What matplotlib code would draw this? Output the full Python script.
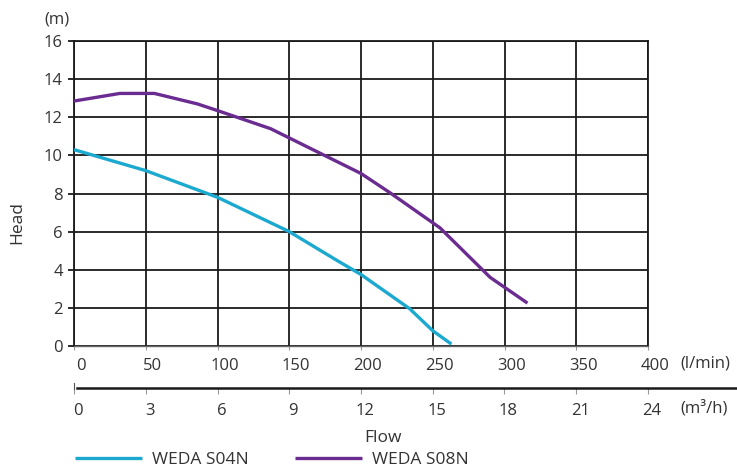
import matplotlib
matplotlib.use("Agg")
import matplotlib.pyplot as plt
from matplotlib.lines import Line2D
import matplotlib.transforms as mtransforms

plt.rcParams['font.family'] = ['Open Sans', 'DejaVu Sans']

# Data
s04_flow = [0, 25, 50, 100, 150, 183, 200, 234, 250, 263]
s04_head = [10.3, 9.75, 9.2, 7.8, 6.0, 4.5, 3.75, 1.95, 0.8, 0.1]
s08_flow = [0, 32, 56, 86, 100, 137, 200, 220, 255, 290, 316]
s08_head = [12.85, 13.25, 13.25, 12.7, 12.35, 11.4, 9.05, 8.05, 6.2, 3.6, 2.25]
lmin_ticks = [0, 50, 100, 150, 200, 250, 300, 350, 400]
m3h_ticks = [0, 3, 6, 9, 12, 15, 18, 21, 24]
head_ticks = [0, 2, 4, 6, 8, 10, 12, 14, 16]
series_names = ["WEDA S04N", "WEDA S08N"]

W, H = 737, 472
fig = plt.figure(figsize=(W / 100, H / 100), dpi=100)
txt = '#333333'
fs = 12
fs_big = 12.5

L, R, T, B = 74, 648, 41, 346
ax = fig.add_axes([L / W, 1 - B / H, (R - L) / W, (B - T) / H])
ax.set_xlim(0, 400)
ax.set_ylim(0, 16)
ax.set_xticks(lmin_ticks)
ax.set_yticks(head_ticks)
ax.grid(True, color='#1a1a1a', linewidth=1.3)
ax.set_axisbelow(True)
for s in ['top', 'right', 'left']:
    ax.spines[s].set_color('#1a1a1a')
    ax.spines[s].set_linewidth(1.3)
ax.spines['bottom'].set_color('#666666')
ax.spines['bottom'].set_linewidth(1.0)
ax.tick_params(axis='y', direction='out', length=4, width=1.3, color='#1a1a1a',
               pad=4, labelsize=fs, labelcolor=txt)
ax.tick_params(axis='x', direction='out', length=3, width=0.8, color='#999999',
               pad=6, labelsize=fs, labelcolor=txt)
off = mtransforms.ScaledTranslation(7 / 100, 0, fig.dpi_scale_trans)
for lab in ax.get_xticklabels():
    lab.set_transform(lab.get_transform() + off)

ax.plot(s04_flow, s04_head, color='#1BA9D0', lw=2.4, label=series_names[0],
        solid_capstyle='butt', zorder=3)
ax.plot(s08_flow, s08_head, color='#6B2C91', lw=2.4, label=series_names[1],
        solid_capstyle='butt', zorder=3)

# Secondary flow axis (m3/h)
y2 = 388
ax2 = fig.add_axes([L / W, 1 - y2 / H, (R - L) / W, 0.0001])
ax2.set_xlim(0, 24)
ax2.set_xticks(m3h_ticks)
ax2.set_yticks([])
for s in ax2.spines.values():
    s.set_visible(False)
ax2.patch.set_visible(False)
ax2.tick_params(axis='x', direction='out', length=4, width=0.8, color='#999999',
                pad=7, labelsize=fs, labelcolor=txt)
off2 = mtransforms.ScaledTranslation(4 / 100, 0, fig.dpi_scale_trans)
for lab in ax2.get_xticklabels():
    lab.set_transform(lab.get_transform() + off2)
fig.add_artist(Line2D([77 / W, 1.0], [1 - y2 / H, 1 - y2 / H], color='#1a1a1a',
                      lw=1.8, transform=fig.transFigure))
fig.add_artist(Line2D([L / W, L / W], [1 - 383 / H, 1 - 389 / H], color='#555555',
                      lw=0.8, transform=fig.transFigure))

# Units and labels
fig.text(680 / W, 1 - 363 / H, "(l/min)", ha='left', va='center', fontsize=fs, color=txt)
fig.text(680 / W, 1 - 408 / H, "(m³/h)", ha='left', va='center', fontsize=fs, color=txt)
fig.text(57 / W, 1 - 19 / H, "(m)", ha='center', va='center', fontsize=fs, color=txt)
fig.text(17 / W, 1 - 222 / H, "Head", ha='center', va='center', rotation=90,
         fontsize=fs_big, color=txt)
fig.text(383 / W, 1 - 438 / H, "Flow", ha='center', va='center', fontsize=fs_big, color=txt)

leg = fig.legend(loc='center left', bbox_to_anchor=(75 / W, 1 - 460 / H), ncol=2,
                 frameon=False, fontsize=fs_big, handlelength=3.85, handletextpad=0.57,
                 columnspacing=2.7, borderpad=0, borderaxespad=0)
for t in leg.get_texts():
    t.set_color(txt)

fig.savefig("out.png", dpi=100)
